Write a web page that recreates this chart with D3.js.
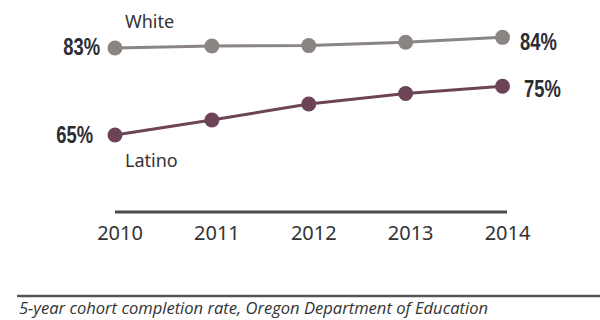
<!DOCTYPE html>
<html>
<head>
<meta charset="utf-8">
<script src="https://cdn.jsdelivr.net/npm/d3@7"></script>
<style>
  body { margin: 0; background: #fff; }
  svg { display: block; }
</style>
</head>
<body>
<script>
// data
var years = [2010, 2011, 2012, 2013, 2014];
var white = [83, 83.4, 83.5, 84.2, 85.2];
var latino = [65, 68.1, 71.4, 73.6, 75.1];
var seriesNames = ['White', 'Latino'];
var startLabels = ['83%', '65%'];
var endLabels = ['84%', '75%'];
var source = '5-year cohort completion rate, Oregon Department of Education';

var width = 600, height = 320;
var svg = d3.select('body').append('svg')
    .attr('width', width)
    .attr('height', height);

var x = d3.scaleLinear().domain([2010, 2014]).range([115, 502.5]);
var y = d3.scaleLinear().domain([65, 83]).range([135, 48]);

var colors = ['#8a8583', '#6d4457'];
var series = [white, latino];

var line = d3.line()
    .x(function(d, i) { return x(years[i]); })
    .y(function(d) { return y(d); });

// lines + dots
series.forEach(function(vals, s) {
    var g = svg.append('g');
    g.append('path')
        .attr('d', line(vals))
        .attr('fill', 'none')
        .attr('stroke', colors[s])
        .attr('stroke-width', 3);
    g.selectAll('circle')
        .data(vals)
        .enter().append('circle')
        .attr('cx', function(d, i) { return x(years[i]); })
        .attr('cy', function(d) { return y(d); })
        .attr('r', 7.5)
        .style('fill', colors[s]);
});

var txtFont = '"Noto Sans", "Open Sans", sans-serif';

// condensed bold numbers: no narrow font installed, so squeeze Liberation Sans
function pctLabel(px, py, anchor, str) {
    svg.append('g')
        .attr('transform', 'translate(' + px + ',' + py + ') scale(0.8,1)')
        .append('text')
        .attr('text-anchor', anchor)
        .style('font-family', '"Liberation Sans", Arial, sans-serif')
        .style('font-weight', 'bold')
        .style('font-size', '23px')
        .style('fill', '#2c2c33')
        .text(str);
}

// start / end percent labels (offsets per series, tweaked by eye)
var startDx = [-15, -22], startDy = [7, 8];
var endDx = [17.5, 21.5], endDy = [13, 11];
series.forEach(function(vals, s) {
    var last = vals.length - 1;
    pctLabel(x(years[0]) + startDx[s], y(vals[0]) + startDy[s], 'end', startLabels[s]);
    pctLabel(x(years[last]) + endDx[s], y(vals[last]) + endDy[s], 'start', endLabels[s]);
});

// series names
var nameDy = [-20, 32];
seriesNames.forEach(function(n, s) {
    svg.append('text')
        .attr('x', x(years[0]) + 10)
        .attr('y', y(series[s][0]) + nameDy[s])
        .style('font-family', txtFont)
        .style('font-size', '18px')
        .style('fill', '#333')
        .text(n);
});

// x axis: tick labels sit a little right of the dots
var axisX = x.copy().range([x(2010) + 4.5, x(2014) + 4.5]);
var axis = svg.append('g')
    .attr('transform', 'translate(0,212)')
    .call(d3.axisBottom(axisX)
        .tickValues(years)
        .tickFormat(d3.format('d'))
        .tickSize(0)
        .tickSizeOuter(0));
axis.select('.domain')
    .attr('d', 'M' + x(2010) + ',0H' + axisX(2014))
    .attr('stroke', '#4a4a4a')
    .attr('stroke-width', 3);
axis.selectAll('text')
    .attr('y', 28)
    .attr('dy', 0)
    .style('font-family', txtFont)
    .style('font-size', '20px')
    .style('fill', '#333');

// source rule + note
svg.append('line')
    .attr('x1', 17).attr('x2', width)
    .attr('y1', 296).attr('y2', 296)
    .attr('stroke', '#555')
    .attr('stroke-width', 2.5);
svg.append('text')
    .attr('x', 19)
    .attr('y', 314)
    .attr('textLength', 469)
    .attr('lengthAdjust', 'spacingAndGlyphs')
    .style('font-family', '"Open Sans", sans-serif')
    .style('font-style', 'italic')
    .style('font-size', '16px')
    .style('fill', '#333')
    .text(source);
</script>
</body>
</html>
